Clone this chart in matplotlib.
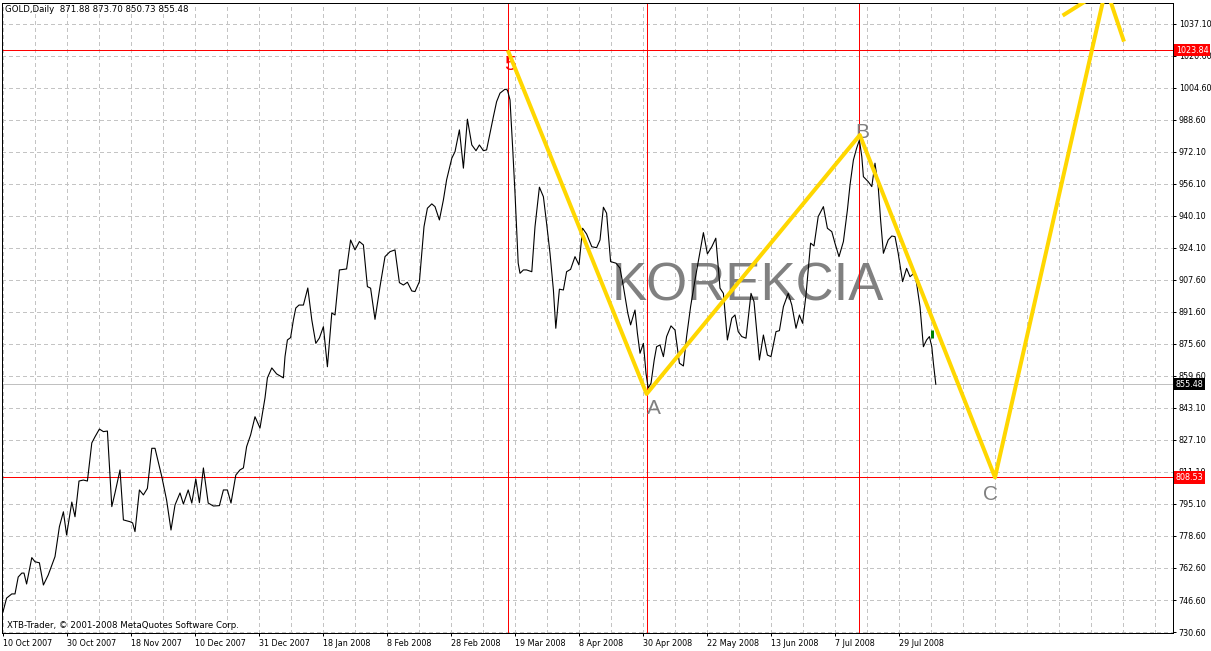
import numpy as np
import matplotlib.pyplot as plt
from matplotlib.transforms import blended_transform_factory

# gold daily close, x = bar number (bar 0 = 10 Oct 2007)
bar = [0.0, 0.9, 2.2, 3.0, 3.8, 4.7, 5.25, 5.9, 7.2, 8.0, 9.1, 10.1, 11.3, 13.0, 14.1, 15.1, 15.9, 17.2, 18.0, 19.0,
       20.1, 21.1, 22.2, 23.0, 24.1, 25.1, 26.1, 27.2, 28.0, 29.25, 30.1, 31.75, 32.4, 33.0, 34.1, 35.1, 36.1, 37.2,
       38.0, 39.7, 40.9, 42.0, 43.0, 44.25, 45.1, 46.3, 47.2, 48.2, 49.1, 50.1, 51.3, 52.6, 54.1, 55.1, 56.1, 57.0,
       58.2, 59.25, 60.1, 60.9, 61.9, 63.0, 64.25,
       65.5, 66.1, 67.2, 68.4, 70.1, 70.5, 71.1, 71.9, 72.6, 73.2, 74.0, 75.1, 76.2, 77.2, 78.2, 79.1, 80.1, 80.5,
       81.1, 82.2, 83.0, 84.1, 85.9, 86.9, 88.0, 89.1, 90.1, 91.1, 91.9, 93.0, 94.25, 95.5, 96.75, 98.0, 99.1, 100.1,
       101.1, 102.2, 103.0, 104.1, 105.25, 106.1, 107.2, 108.0, 109.1, 110.1, 110.9, 112.2, 113.0, 114.1, 115.1,
       116.1, 117.2, 118.25, 119.1, 120.1, 120.9, 122.6, 123.4, 124.25, 125.5, 126.1,
       126.75, 127.4, 128.0, 128.8, 129.25, 130.1, 130.9, 132.2, 133.0, 134.1, 135.1, 135.9, 136.75, 137.6, 138.2,
       139.1, 140.1, 140.9, 141.9, 143.0, 144.0, 144.9, 145.9, 147.2, 148.4, 149.25, 150.1, 150.9, 151.9, 153.25,
       154.25, 155.1, 156.2, 156.9, 158.0, 158.6, 159.25, 160.1, 160.75, 161.3, 162.0, 162.8, 163.4, 164.25, 165.1,
       165.9, 167.0, 168.0, 169.1, 170.1, 170.9, 171.9, 173.0, 174.1,
       175.1, 176.1, 177.2, 178.2, 179.25, 180.1, 181.1, 182.2, 183.0, 183.8, 184.7, 185.75, 187.0, 187.75, 189.1,
       190.1, 191.1, 192.0, 193.25, 194.1, 195.1, 196.3, 197.2, 198.25, 199.1, 199.9, 200.75, 201.9, 202.75, 203.8,
       205.1, 206.1, 207.2, 208.0, 209.0, 210.1, 211.1, 211.75, 212.6, 213.4, 214.1, 214.7, 215.1, 216.3, 217.2,
       218.0, 218.8, 219.4, 220.1, 221.3, 222.2, 223.0, 223.8, 224.9, 225.9, 226.75, 227.75, 228.4, 229.25, 230.1,
       230.9, 231.6, 232.2, 232.6, 233.2]
close = [740.8, 747.7, 749.8, 749.8, 758.3, 760.3, 760.3, 754.8, 768.1, 766.0, 765.5, 754.3, 759.3, 768.6, 783.7,
         791.2, 779.5, 796.1, 788.7, 806.7, 807.2, 806.7, 825.9, 829.0, 832.9, 831.6, 831.9, 793.8, 800.7, 812.3,
         787.1, 786.2, 785.6, 781.2, 802.2, 799.7, 803.0, 823.2, 823.2, 808.9, 797.1, 782.0, 794.6, 800.7, 795.1,
         802.2, 795.6, 807.7, 795.8, 813.3, 795.6, 794.1, 794.3, 802.2, 802.2, 795.6, 809.7, 812.3, 813.3, 824.0,
         829.9, 839.1, 833.4,
         848.6, 858.7, 863.7, 860.7, 858.7, 869.4, 877.8, 879.0, 887.9, 893.9, 895.4, 895.4, 904.0, 887.9, 876.1,
         878.8, 884.5, 876.3, 864.3, 891.4, 890.4, 913.1, 913.6, 928.2, 923.2, 927.4, 925.7, 904.7, 903.9, 888.2,
         904.7, 919.8, 922.3, 923.2, 906.7, 905.5, 906.9, 902.5, 902.2, 907.2, 934.9, 944.2, 946.4, 945.0, 938.3,
         948.4, 958.5, 969.4, 972.7, 983.7, 964.4, 989.1, 976.1, 973.2, 976.1, 973.2, 973.6, 990.4, 997.9, 1002.2,
         1004.2, 1003.8,
         998.8, 975.2, 951.8, 916.5, 911.4, 913.1, 913.1, 912.2, 934.9, 954.8, 950.0, 936.6, 921.5, 903.0, 883.7,
         903.4, 903.0, 912.2, 913.4, 919.8, 915.6, 934.1, 931.2, 924.8, 924.3, 928.2, 944.7, 941.7, 917.3, 916.5,
         914.0, 904.7, 891.3, 885.4, 892.9, 881.2, 871.1, 876.1, 861.0, 853.5, 856.0, 867.7, 874.4, 875.3, 869.4,
         879.5, 884.9, 882.8, 866.1, 864.7, 879.5, 894.6, 908.0, 920.6,
         931.9, 921.2, 924.8, 929.1, 903.9, 901.3, 877.8, 888.8, 890.4, 882.0, 879.5, 878.7, 901.3, 897.1, 867.7,
         880.3, 870.2, 869.4, 882.0, 882.5, 894.6, 901.3, 895.4, 883.7, 890.4, 886.2, 900.5, 926.6, 925.2, 940.0,
         945.0, 934.1, 932.4, 926.5, 919.8, 927.4, 943.3, 955.9, 968.5, 974.4, 978.6, 970.2, 960.1, 957.6, 955.1,
         966.9, 955.1, 938.3, 921.5, 928.2, 930.2, 929.9, 921.5, 907.2, 913.9, 909.7, 911.4, 906.4, 894.6, 874.4,
         877.8, 879.5, 874.4, 866.1, 855.48]

# elliott wave drawing (5 - A - B - C - 1 - 2)
wave_bar = [126.2, 160.9, 214.2, 248.0, 275.75, 280.25]
wave_price = [1023.84, 850.6, 981.1, 808.53, 1055.3, 1028.2]
wave2_bar = [264.9, 273.1]
wave2_price = [1041.3, 1051.7]
wave_labels = ['5', 'A', 'B', 'C']
label_bar = [126.75, 162.75, 214.75, 246.75]
label_price = [1016.4, 843.5, 982.2, 799.7]
label_color = ['red', '#808080', '#808080', '#808080']

vline_bars = [126.2, 160.9, 214.0]
red_levels = [1023.84, 808.53]
last_price = 855.48

date_labels = ['10 Oct 2007', '30 Oct 2007', '18 Nov 2007', '10 Dec 2007', '31 Dec 2007', '18 Jan 2008',
               '8 Feb 2008', '28 Feb 2008', '19 Mar 2008', '8 Apr 2008', '30 Apr 2008', '22 May 2008',
               '13 Jun 2008', '7 Jul 2008', '29 Jul 2008']
price_labels = ['730.60', '746.60', '762.60', '778.60', '795.10', '811.10', '827.10', '843.10', '859.60',
                '875.60', '891.60', '907.60', '924.10', '940.10', '956.10', '972.10', '988.60', '1004.60',
                '1020.60', '1037.10']

W, H = 1211, 651
fig = plt.figure(figsize=(W / 100, H / 100), dpi=100)
ax = fig.add_axes([2 / W, 18 / H, 1171 / W, 630.5 / H])
ax.set_xlim(-0.25, 292.5)
ax.set_ylim(730.1, 1047.9)

px = 0.72  # one pixel in points
tick_font = dict(family='DejaVu Sans', size=5.8)

ax.yaxis.tick_right()
ax.set_yticks(np.linspace(730.6, 1037.1, len(price_labels)))
ax.set_yticklabels(price_labels, **tick_font)
ax.set_xticks(np.arange(len(date_labels)) * 16)
ax.set_xticklabels(date_labels, ha='left', **tick_font)
ax.set_xticks(np.arange(0, 292, 8), minor=True)
ax.tick_params(axis='both', which='major', direction='out', length=3 * px, width=px, pad=2)
ax.tick_params(axis='x', which='minor', length=0)

grid_kw = dict(color='#c4c4c4', linewidth=px, linestyle=(0, (4, 3)), zorder=0, antialiased=False)
ax.xaxis.grid(True, which='both', **grid_kw)
ax.yaxis.grid(True, which='major', **grid_kw)
ax.set_axisbelow(True)
for s in ax.spines.values():
    s.set_linewidth(px)
    s.set_color('black')

# big gray text behind the lines
ax.text(186.25, 904.5, 'KOREKCIA', fontsize=38, color='#808080', family='Liberation Sans',
        ha='center', va='center', zorder=1)

ax.axhline(last_price, color='#c0c0c0', linewidth=px, zorder=2, antialiased=False)
for lv in red_levels:
    ax.axhline(lv, color='red', linewidth=px, zorder=2, antialiased=False)
for vb in vline_bars:
    ax.axvline(vb, color='red', linewidth=px, zorder=2, antialiased=False)

ax.plot(bar, close, color='black', linewidth=0.8, zorder=3)
ax.vlines(232.2, 879.0, 882.8, color='#008000', linewidth=3 * px, zorder=4)

for t, bx, by, c in zip(wave_labels, label_bar, label_price, label_color):
    ax.text(bx, by, t, fontsize=15, color=c, family='Liberation Sans', ha='center', va='center', zorder=4)

ax.plot(wave_bar, wave_price, color='#ffd700', linewidth=4 * px, zorder=5, solid_capstyle='butt')
ax.plot(wave2_bar, wave2_price, color='#ffd700', linewidth=4 * px, zorder=5, solid_capstyle='butt')

# price boxes on the right scale
tr = blended_transform_factory(ax.transAxes, ax.transData)
box_x = 1 + 3 / 1171
for val, bg in [(red_levels[0], 'red'), (last_price, 'black'), (red_levels[1], 'red')]:
    ax.text(box_x, val, f'{val:.2f}', transform=tr, color='white', ha='left', va='center', zorder=6,
            bbox=dict(boxstyle='square,pad=0.2', fc=bg, ec='none'), clip_on=False, **tick_font)

fig.text(5 / W, 1 - 10 / H, 'GOLD,Daily  871.88 873.70 850.73 855.48', ha='left', va='center',
         family='DejaVu Sans', size=6.2)
ax.text(5 / 1171, 1 - (625 - 2.5) / 630.5, 'XTB-Trader, \u00a9 2001-2008 MetaQuotes Software Corp.',
        transform=ax.transAxes, ha='left', va='center', family='DejaVu Sans', size=6.2)

fig.savefig('out.png', dpi=100)
